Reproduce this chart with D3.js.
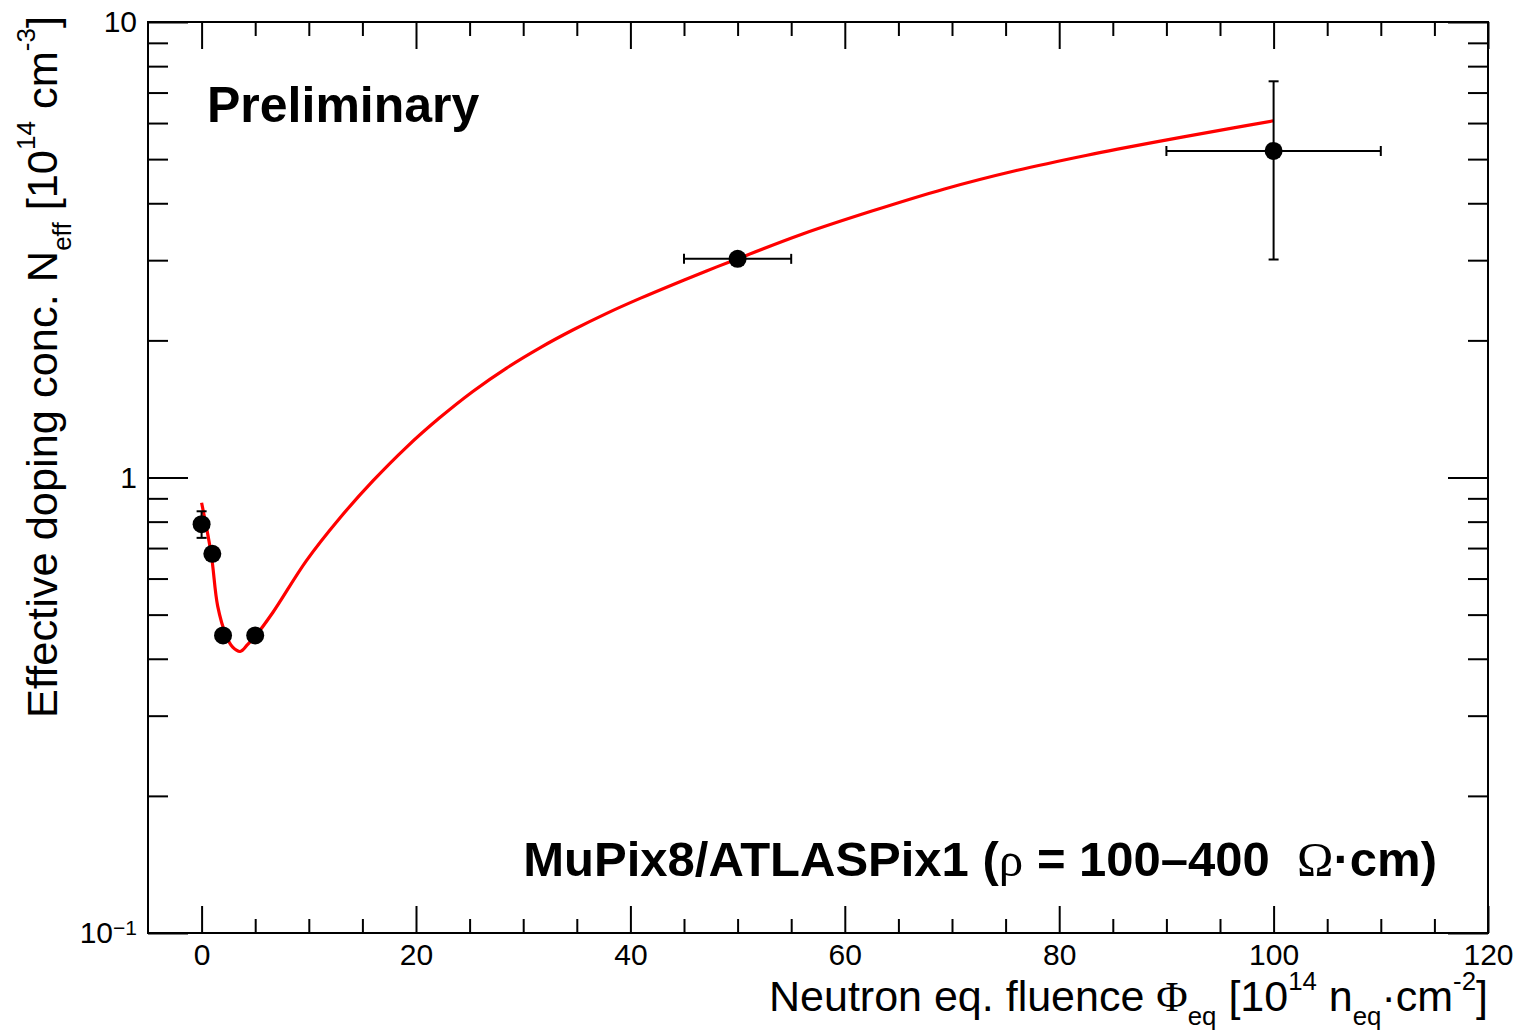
<!DOCTYPE html>
<html>
<head>
<meta charset="utf-8">
<script src="https://cdn.jsdelivr.net/npm/d3@7"></script>
<style>
  html, body { margin: 0; padding: 0; background: #fff; }
  svg { display: block; }
  text { font-family: "Liberation Sans", Arial, Helvetica, sans-serif; fill: #000; white-space: pre; }
</style>
</head>
<body>
<svg id="chart" width="1517" height="1034"></svg>
<script>
// ---- data ----
const pointX   = [0, 1, 2, 5, 50, 100];
const pointY   = [0.79, 0.68, 0.45, 0.45, 3.02, 5.21];
const errX     = [0, 0, 0, 0, 5, 10];
const errY     = [0.053, 0, 0, 0, 0, 2.2];

const fitX = [0, 0.9, 1.5, 2.3, 2.9, 3.6, 4.3, 5.0, 6.66, 9.78, 12.9, 16.0, 19.1, 22.2, 25.3, 28.45, 31.56, 34.67, 37.79, 40.9, 44.0, 47.1, 49.6, 56, 62.6, 69.3, 76, 82.6, 89.3, 96, 100];
const fitY = [0.88, 0.678, 0.522, 0.449, 0.424, 0.415, 0.430, 0.448, 0.506, 0.657, 0.815, 0.984, 1.165, 1.352, 1.545, 1.739, 1.926, 2.110, 2.293, 2.473, 2.654, 2.841, 2.996, 3.42, 3.85, 4.30, 4.72, 5.10, 5.47, 5.84, 6.07];

const xMajorTicks = [0, 20, 40, 60, 80, 100, 120];
const xMinorTicks = [5, 10, 15, 25, 30, 35, 45, 50, 55, 65, 70, 75, 85, 90, 95, 105, 110, 115];
const yMajorTicks = [0.1, 1, 10];
const yMajorLabels = ["10", "1", "10"];   // 0.1 gets a "−1" superscript
const yMinorTicks = [0.2, 0.3, 0.4, 0.5, 0.6, 0.7, 0.8, 0.9, 2, 3, 4, 5, 6, 7, 8, 9];

const xDomain = [-5, 120];
const yDomain = [0.1, 10];

// ---- layout ----
const W = 1517, H = 1034;
const m = { left: 148, top: 22, right: 29, bottom: 101 };
const pw = W - m.left - m.right, ph = H - m.top - m.bottom;

const svg = d3.select("#chart");
svg.append("rect").attr("width", W).attr("height", H).attr("fill", "#fff");

const x = d3.scaleLinear().domain(xDomain).range([m.left, m.left + pw]);
const y = d3.scaleLog().domain(yDomain).range([m.top + ph, m.top]);

const tickFont = 30;
function styleAxis(g) {
  g.select(".domain").remove();
  g.selectAll(".tick line").attr("stroke", "#000").attr("stroke-width", 2);
  g.selectAll(".tick text").attr("font-size", tickFont).attr("font-family", '"Liberation Sans", Arial, sans-serif').attr("fill", "#000");
}

// bottom axis
svg.append("g").attr("transform", `translate(0,${m.top + ph})`)
  .call(d3.axisBottom(x).tickValues(xMajorTicks).tickSize(-27).tickPadding(11).tickFormat(d3.format("d")))
  .call(styleAxis);
svg.append("g").attr("transform", `translate(0,${m.top + ph})`)
  .call(d3.axisBottom(x).tickValues(xMinorTicks).tickSize(-14).tickFormat(""))
  .call(styleAxis);
// top axis (mirrored ticks)
svg.append("g").attr("transform", `translate(0,${m.top})`)
  .call(d3.axisTop(x).tickValues(xMajorTicks).tickSize(-27).tickFormat(""))
  .call(styleAxis);
svg.append("g").attr("transform", `translate(0,${m.top})`)
  .call(d3.axisTop(x).tickValues(xMinorTicks).tickSize(-14).tickFormat(""))
  .call(styleAxis);

// left axis
const yLeft = svg.append("g").attr("transform", `translate(${m.left},0)`)
  .call(d3.axisLeft(y).tickValues(yMajorTicks).tickSize(-40).tickPadding(11)
        .tickFormat((d, i) => yMajorLabels[i]))
  .call(styleAxis);
yLeft.selectAll(".tick text").each(function(d) {
  if (Math.abs(d - 0.1) < 1e-9) {
    const t = d3.select(this);
    t.append("tspan").attr("dy", "-0.4em").attr("font-size", 21).text("\u22121");
  }
});
svg.append("g").attr("transform", `translate(${m.left},0)`)
  .call(d3.axisLeft(y).tickValues(yMinorTicks).tickSize(-20).tickFormat(""))
  .call(styleAxis);
// right axis
svg.append("g").attr("transform", `translate(${m.left + pw},0)`)
  .call(d3.axisRight(y).tickValues(yMajorTicks).tickSize(-40).tickFormat(""))
  .call(styleAxis);
svg.append("g").attr("transform", `translate(${m.left + pw},0)`)
  .call(d3.axisRight(y).tickValues(yMinorTicks).tickSize(-20).tickFormat(""))
  .call(styleAxis);

// frame
svg.append("rect").attr("x", m.left).attr("y", m.top).attr("width", pw).attr("height", ph)
  .attr("fill", "none").attr("stroke", "#000").attr("stroke-width", 2);

// fit curve
const fitData = fitX.map((v, i) => [v, fitY[i]]);
svg.append("path").datum(fitData)
  .attr("d", d3.line().x(d => x(d[0])).y(d => y(d[1])).curve(d3.curveCatmullRom.alpha(0.5)))
  .attr("fill", "none").attr("stroke", "#ff0000").attr("stroke-width", 3.2);

// error bars + points
const pts = pointX.map((v, i) => ({ x: v, y: pointY[i], ex: errX[i], ey: errY[i] }));
const eb = svg.append("g").attr("stroke", "#000").attr("stroke-width", 2);
const cap = 5;
pts.forEach(p => {
  if (p.ex > 0) {
    eb.append("line").attr("x1", x(p.x - p.ex)).attr("x2", x(p.x + p.ex)).attr("y1", y(p.y)).attr("y2", y(p.y));
    eb.append("line").attr("x1", x(p.x - p.ex)).attr("x2", x(p.x - p.ex)).attr("y1", y(p.y) - cap).attr("y2", y(p.y) + cap);
    eb.append("line").attr("x1", x(p.x + p.ex)).attr("x2", x(p.x + p.ex)).attr("y1", y(p.y) - cap).attr("y2", y(p.y) + cap);
  }
  if (p.ey > 0) {
    eb.append("line").attr("x1", x(p.x)).attr("x2", x(p.x)).attr("y1", y(p.y - p.ey)).attr("y2", y(p.y + p.ey));
    eb.append("line").attr("x1", x(p.x) - cap).attr("x2", x(p.x) + cap).attr("y1", y(p.y - p.ey)).attr("y2", y(p.y - p.ey));
    eb.append("line").attr("x1", x(p.x) - cap).attr("x2", x(p.x) + cap).attr("y1", y(p.y + p.ey)).attr("y2", y(p.y + p.ey));
  }
});
svg.append("g").selectAll("circle").data(pts).join("circle")
  .attr("cx", d => x(d.x)).attr("cy", d => y(d.y)).attr("r", 9).attr("fill", "#000");

// rich text helper
function rich(sel, parts, size) {
  let off = 0;
  parts.forEach(p => {
    const ts = sel.append("tspan").text(p.t);
    let target = 0, fs = size;
    if (p.s === "sub") { target = 0.33 * size; fs = 0.6 * size; }
    if (p.s === "sup") { target = -0.5 * size; fs = 0.6 * size; }
    ts.attr("font-size", fs);
    if (target !== off) { ts.attr("dy", target - off); off = target; }
    if (p.f) ts.attr("font-family", p.f);
    if (p.w) ts.attr("font-weight", p.w);
  });
}
const serif = '"Liberation Serif", "Times New Roman", serif';

// x title
const xt = svg.append("text").attr("x", 1488).attr("y", 1011).attr("text-anchor", "end");
rich(xt, [
  { t: "Neutron eq. fluence " }, { t: "\u03A6", f: serif }, { t: "eq", s: "sub" },
  { t: " [10" }, { t: "14", s: "sup" }, { t: " n" }, { t: "eq", s: "sub" },
  { t: "\u00B7cm" }, { t: "-2", s: "sup" }, { t: "]" }
], 43);

// y title
const yt = svg.append("text").attr("transform", "translate(57,718) rotate(-90)").attr("text-anchor", "start");
rich(yt, [
  { t: "Effective doping conc. N" }, { t: "eff", s: "sub" },
  { t: " [10" }, { t: "14", s: "sup" }, { t: " cm" }, { t: "-3", s: "sup" }, { t: "]" }
], 43.4);

// annotations
svg.append("text").attr("x", 207).attr("y", 122).attr("font-size", 50).attr("font-weight", "bold").text("Preliminary");
const lab = svg.append("text").attr("x", 1437).attr("y", 876).attr("text-anchor", "end").attr("font-weight", "bold");
rich(lab, [
  { t: "MuPix8/ATLASPix1 (" }, { t: "\u03C1", f: serif, w: "normal" },
  { t: " = 100\u2013400\u00A0 " }, { t: "\u03A9", f: serif, w: "normal" }, { t: "\u00B7cm)" }
], 49);
</script>
</body>
</html>
